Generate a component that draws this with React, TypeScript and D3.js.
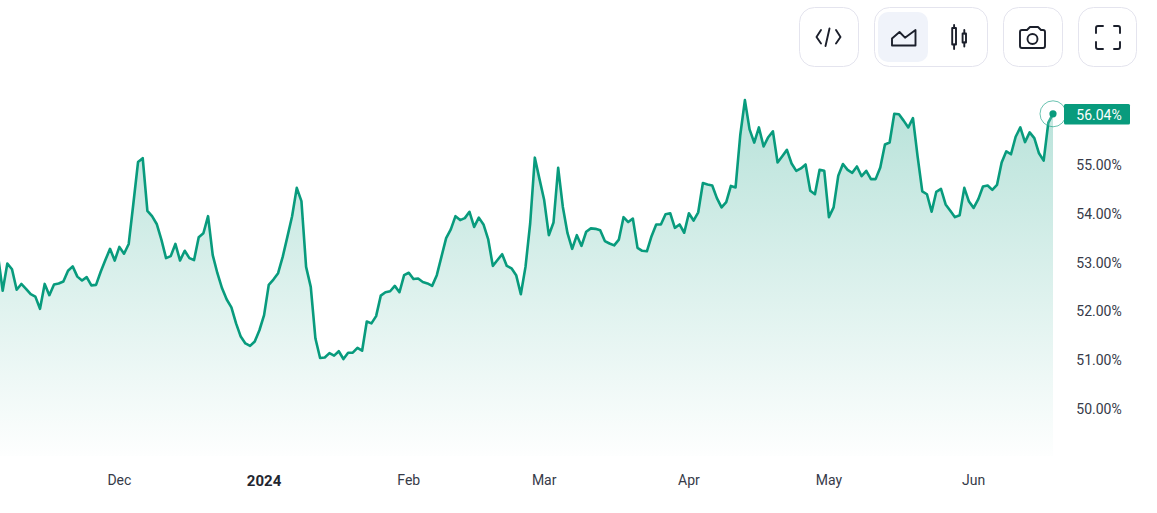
import React from "react";
import * as d3 from "d3";

const WIDTH = 1157;
const HEIGHT = 513;

const startDate = "2023-11-05";
// Daily values, % (one entry per day from startDate)
const valuesNovDec = [
  53.13, 52.41, 52.97, 52.85, 52.43, 52.55, 52.45, 52.34, 52.29, 52.04, 52.55, 52.32, 52.54, 52.56, 52.6, 52.82, 52.91,
  52.7, 52.62, 52.69, 52.52, 52.53, 52.8, 53.04, 53.27, 53.03, 53.31, 53.17, 53.37, 54.2, 55.05, 55.13, 54.05, 53.94,
  53.78, 53.46, 53.08, 53.12, 53.37, 53.03, 53.23, 53.08, 53.04, 53.51, 53.59, 53.94, 53.14, 52.77, 52.46, 52.23,
  52.07, 51.74, 51.47, 51.33, 51.28, 51.37, 51.6,
];
const valuesJanFeb = [
  51.91, 52.53, 52.64, 52.77, 53.11, 53.52, 53.94, 54.52, 54.25, 52.9, 52.49, 51.43, 51.03, 51.04, 51.13, 51.08,
  51.17, 51.01, 51.14, 51.14, 51.24, 51.18, 51.78, 51.74, 51.89, 52.31, 52.38, 52.4, 52.51, 52.38, 52.73, 52.78,
  52.65, 52.66, 52.59, 52.56, 52.51, 52.73, 53.11, 53.49, 53.67, 53.94, 53.86, 53.9, 54.03, 53.72, 53.91, 53.77,
  53.47, 52.92, 53.04, 53.16, 52.92, 52.87, 52.73, 52.34, 52.9, 53.79, 55.14, 54.7,
];
const valuesMarApr = [
  54.27, 53.55, 53.81, 54.93, 54.13, 53.59, 53.27, 53.55, 53.33, 53.62, 53.69, 53.68, 53.65, 53.43, 53.38, 53.34,
  53.46, 53.92, 53.82, 53.89, 53.29, 53.23, 53.22, 53.53, 53.77, 53.77, 53.98, 54.0, 53.7, 53.77, 53.6, 54.0, 53.85,
  54.02, 54.62, 54.59, 54.57, 54.31, 54.12, 54.23, 54.56, 54.53, 55.6, 56.32, 55.72, 55.45, 55.76, 55.37, 55.56,
  55.68, 55.04, 55.17, 55.3, 55.02, 54.87, 54.92, 55.0, 54.46, 54.39, 54.89, 54.87,
];
const valuesMayJun = [
  53.92, 54.12, 54.77, 55.01, 54.89, 54.83, 54.96, 54.76, 54.87, 54.7, 54.7, 54.94, 55.41, 55.45, 56.04, 56.03, 55.9,
  55.76, 55.95, 55.16, 54.45, 54.39, 54.03, 54.44, 54.5, 54.18, 54.05, 53.92, 53.96, 54.52, 54.24, 54.11, 54.29,
  54.55, 54.57, 54.48, 54.58, 55.04, 55.27, 55.21, 55.57, 55.76, 55.46, 55.66, 55.54, 55.23, 55.08, 55.86, 56.04,
];
const values = [...valuesNovDec, ...valuesJanFeb, ...valuesMarApr, ...valuesMayJun];

const yTicks = [50, 51, 52, 53, 54, 55];
const xTickLabels = ["Dec", "2024", "Feb", "Mar", "Apr", "May", "Jun"];
const xTickDates = ["2023-12-01", "2024-01-01", "2024-02-01", "2024-03-01", "2024-04-01", "2024-05-01", "2024-06-01"];

const GREEN = "#089b7d";
const INK = "#1b1f2b";
const FONT = "Roboto, sans-serif";

const start = new Date(startDate + "T00:00:00Z");
const dates = values.map((_, i) => d3.utcDay.offset(start, i));

const x = d3
  .scaleUtc()
  .domain([start, dates[dates.length - 1]])
  .range([-2, 1053]);
const y = d3.scaleLinear().domain([50, 55]).range([408.25, 164.5]);
const baseline = 456;

const pts: [Date, number][] = dates.map((d, i) => [d, values[i]]);
const linePath = d3
  .line<[Date, number]>()
  .x((d) => x(d[0]))
  .y((d) => y(d[1]))(pts)!;
const areaPath = d3
  .area<[Date, number]>()
  .x((d) => x(d[0]))
  .y0(baseline)
  .y1((d) => y(d[1]))(pts)!;

const lastX = x(dates[dates.length - 1]);
const lastY = y(values[values.length - 1]);

function Btn({ x0, w }: { x0: number; w: number }) {
  return <rect x={x0} y={7.5} width={w} height={59} rx={15} fill="#fff" stroke="#e4e4ee" strokeWidth={1} />;
}

export default function App() {
  return (
    <svg
      width={WIDTH}
      height={HEIGHT}
      viewBox={`0 0 ${WIDTH} ${HEIGHT}`}
      style={{ position: "fixed", left: 0, top: 0, display: "block", background: "#fff" }}
    >
      <defs>
        <linearGradient id="fade" gradientUnits="userSpaceOnUse" x1={0} x2={0} y1={100} y2={464}>
          <stop offset="0" stopColor={GREEN} stopOpacity={0.29} />
          <stop offset="1" stopColor={GREEN} stopOpacity={0} />
        </linearGradient>
      </defs>

      <path d={areaPath} fill="url(#fade)" />
      <path d={linePath} fill="none" stroke={GREEN} strokeWidth={2.6} strokeLinejoin="round" />
      <circle cx={lastX} cy={lastY} r={13} fill="#fff" fillOpacity={0.15} stroke={GREEN} strokeOpacity={0.6} strokeWidth={1} />
      <circle cx={lastX} cy={lastY} r={3.6} fill={GREEN} />

      {yTicks.map((t) => (
        <text key={t} x={1099} y={y(t) + 0.8} dy="0.35em" textAnchor="middle" fontFamily={FONT} fontSize={14} fill="#363a48">
          {t.toFixed(2)}%
        </text>
      ))}
      <rect x={1064} y={104} width={66} height={20.5} rx={1.5} fill={GREEN} />
      <text x={1099} y={115} dy="0.35em" textAnchor="middle" fontFamily={FONT} fontSize={14} fontWeight={400} fill="#fff">
        {values[values.length - 1].toFixed(2)}%
      </text>

      {xTickLabels.map((l, i) => (
        <text
          key={l}
          x={x(new Date(xTickDates[i] + "T00:00:00Z"))}
          y={480.3}
          dy="0.35em"
          textAnchor="middle"
          fontFamily={FONT}
          fontSize={l === "2024" ? 15 : 14}
          fontWeight={l === "2024" ? 700 : 400}
          fill={l === "2024" ? "#23262f" : "#363a48"}
        >
          {l}
        </text>
      ))}

      {/* Toolbar */}
      <Btn x0={799.5} w={59} />
      <Btn x0={874.5} w={113} />
      <Btn x0={1003.5} w={59} />
      <Btn x0={1078.5} w={58} />
      <rect x={878} y={12} width={50} height={50} rx={10} fill="#f0f3fa" />

      <g fill="none" stroke={INK} strokeWidth={1.9} strokeLinecap="round" strokeLinejoin="round">
        {/* code */}
        <path d="M821 30 L816.5 37 L821 43.5 M836 30 L840.5 37 L836 43.5 M829.5 28.5 L825.5 46" />
        {/* area */}
        <path d="M892 45.5 V38.5 L899.5 32 L905 37.7 L915.5 30 V45.5 Z" />
        {/* candles */}
        <rect x={952.2} y={28} width={3.8} height={16.5} />
        <path d="M954.1 25 V28 M954.1 44.5 V49" />
        <rect x={962.6} y={33.5} width={3.4} height={9} />
        <path d="M964.3 30 V33.5 M964.3 42.5 V46.5" />
        {/* camera */}
        <path d="M1023 30 H1027 L1030 27 H1038 L1041 30 H1043 Q1045 30 1045 32 V46 Q1045 48 1043 48 H1022 Q1020 48 1020 46 V32 Q1020 30 1022 30 Z" />
        <circle cx={1032.5} cy={39} r={5} />
        {/* fullscreen */}
        <path d="M1096 33 V28 Q1096 26 1098 26 H1103 M1114 26 H1118 Q1120 26 1120 28 V33 M1120 42 V47 Q1120 49 1118 49 H1114 M1103 49 H1098 Q1096 49 1096 47 V42" />
      </g>
    </svg>
  );
}
